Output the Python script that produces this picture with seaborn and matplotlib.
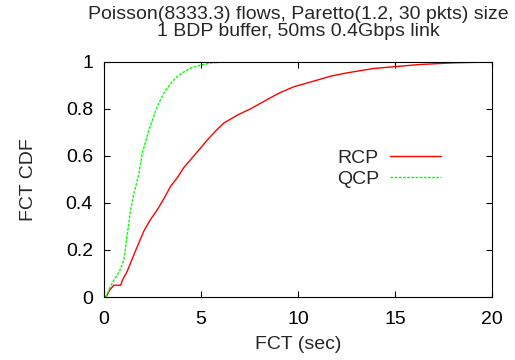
import matplotlib
matplotlib.use("Agg")
import matplotlib.pyplot as plt
import numpy as np
import pandas as pd
import seaborn as sns

# points (FCT in sec, CDF)
rcp_fct = [0.1, 0.3, 0.5, 0.85, 1.0, 1.2, 1.54, 2.05, 2.4, 2.74, 3.1, 3.43, 3.8, 4.11,
           4.63, 5.32, 5.8, 6.18, 6.9, 7.55, 8.2, 8.75, 9.1, 9.78, 10.8, 11.67, 12.5,
           13.9, 15.0, 16.3, 18.0, 20.0]
rcp_cdf = [0.0, 0.03, 0.05, 0.05, 0.08, 0.11, 0.18, 0.28, 0.33, 0.37, 0.42, 0.47, 0.51,
           0.55, 0.60, 0.667, 0.71, 0.74, 0.775, 0.80, 0.83, 0.855, 0.87, 0.894, 0.918,
           0.939, 0.953, 0.972, 0.98, 0.989, 0.996, 1.0]
qcp_fct = [0.1, 0.3, 0.5, 0.8, 1.02, 1.2, 1.37, 1.54, 1.8, 1.97, 2.31, 2.74, 3.1, 3.43,
           3.8, 4.11, 4.5, 4.97, 5.5, 6.2]
qcp_cdf = [0.0, 0.04, 0.07, 0.11, 0.156, 0.27, 0.37, 0.44, 0.525, 0.61, 0.71, 0.81, 0.87,
           0.908, 0.94, 0.957, 0.975, 0.986, 0.995, 1.0]

x_ticks = [0, 5, 10, 15, 20]
y_ticks = [0, 0.2, 0.4, 0.6, 0.8, 1]

df = pd.concat([
    pd.DataFrame({"fct": rcp_fct, "cdf": rcp_cdf, "proto": "RCP"}),
    pd.DataFrame({"fct": qcp_fct, "cdf": qcp_cdf, "proto": "QCP"}),
])

sns.set_style("ticks")
plt.rcParams["font.family"] = ["Liberation Sans", "DejaVu Sans"]
fs = 14

fig = plt.figure(figsize=(5.15, 3.6), dpi=100)
ax = fig.add_axes([0.202, 0.175, 0.753, 0.653])

sns.lineplot(data=df, x="fct", y="cdf", hue="proto", style="proto",
             palette={"RCP": "#ff0000", "QCP": "#00ff00"},
             dashes={"RCP": "", "QCP": (2, 1)},
             linewidth=1.0, estimator=None, sort=False, ax=ax)

ax.set_xlim(0, 20)
ax.set_ylim(0, 1)
ax.set_xticks(x_ticks)
ax.set_yticks(y_ticks)
ax.set_yticklabels([f"{v:g}" for v in y_ticks])
ax.tick_params(direction="in", top=True, right=True, length=4, width=0.8,
               labelsize=fs, colors="black")
ax.tick_params(axis="x", pad=10)
ax.tick_params(axis="y", pad=8)
for s in ax.spines.values():
    s.set_visible(True)
    s.set_color("black")
    s.set_linewidth(0.8)

ax.set_xlabel("FCT (sec)", fontsize=fs, labelpad=6)
ax.set_ylabel("FCT CDF", fontsize=fs, labelpad=21)
ax.set_title("Poisson(8333.3) flows, Paretto(1.2, 30 pkts) size\n1 BDP buffer, 50ms 0.4Gbps link",
             fontsize=fs, linespacing=1.0, pad=19)

ax.legend(loc="upper right", bbox_to_anchor=(0.869, 0.63), markerfirst=False,
          frameon=False, handlelength=2.6, handletextpad=0.6, labelspacing=0.2,
          borderpad=0, borderaxespad=0, fontsize=fs, title=None)

fig.savefig("out.png", dpi=100)
